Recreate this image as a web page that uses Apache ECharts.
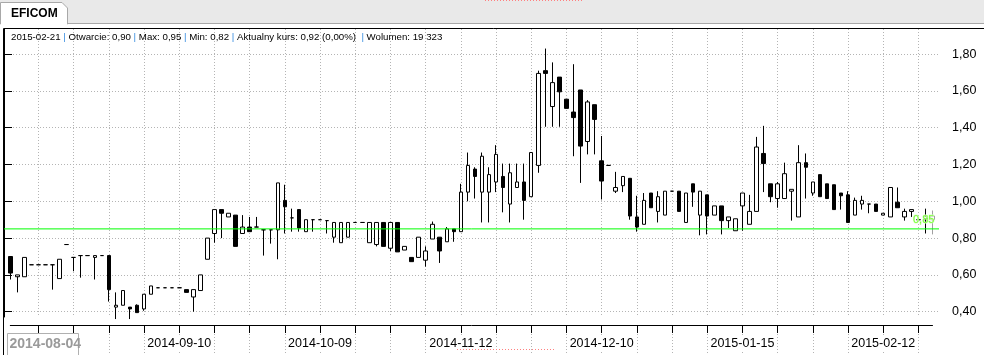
<!DOCTYPE html>
<html><head><meta charset="utf-8">
<script src="https://cdn.jsdelivr.net/npm/echarts@6/dist/echarts.min.js"></script>
<style>html,body{margin:0;padding:0;background:#fff;overflow:hidden}#c{width:984px;height:355px}</style>
</head><body><div id="c"></div>
<script>
const categories = [
'2014-07-29','2014-07-30','2014-07-31','2014-08-01','2014-08-04','2014-08-05','2014-08-06','2014-08-08','2014-08-11','2014-08-12',
'2014-08-14','2014-08-18','2014-08-19','2014-08-21','2014-08-22','2014-08-25','2014-08-26','2014-08-28','2014-08-29','2014-09-01',
'2014-09-03','2014-09-05','2014-09-08','2014-09-09','2014-09-10','2014-09-11','2014-09-12','2014-09-15','2014-09-16','2014-09-18',
'2014-09-19','2014-09-22','2014-09-23','2014-09-24','2014-09-25','2014-09-26','2014-09-29','2014-09-30','2014-10-01','2014-10-02',
'2014-10-03','2014-10-06','2014-10-07','2014-10-08','2014-10-09','2014-10-10','2014-10-13','2014-10-15','2014-10-16','2014-10-17',
'2014-10-20','2014-10-21','2014-10-23','2014-10-24','2014-10-27','2014-10-28','2014-10-29','2014-10-30','2014-10-31','2014-11-03',
'2014-11-04','2014-11-06','2014-11-07','2014-11-10','2014-11-12','2014-11-13','2014-11-14','2014-11-17','2014-11-18','2014-11-19',
'2014-11-20','2014-11-21','2014-11-24','2014-11-25','2014-11-26','2014-11-27','2014-11-28','2014-12-01','2014-12-02','2014-12-03',
'2014-12-04','2014-12-05','2014-12-08','2014-12-09','2014-12-10','2014-12-11','2014-12-12','2014-12-15','2014-12-16','2014-12-17',
'2014-12-18','2014-12-19','2014-12-22','2014-12-23','2014-12-29','2014-12-30','2015-01-02','2015-01-05','2015-01-07','2015-01-08',
'2015-01-09','2015-01-12','2015-01-13','2015-01-14','2015-01-15','2015-01-16','2015-01-19','2015-01-20','2015-01-21','2015-01-22',
'2015-01-23','2015-01-26','2015-01-27','2015-01-28','2015-01-29','2015-01-30','2015-02-02','2015-02-03','2015-02-04','2015-02-05',
'2015-02-06','2015-02-09','2015-02-10','2015-02-11','2015-02-12','2015-02-13','2015-02-16','2015-02-17','2015-02-18','2015-02-19',
'2015-02-20','2015-02-21'];

const openValues = [
.70,.59,.59,.655,.655,.655,.655,.58,.765,.695,
.705,.705,.695,.705,.705,.425,.435,.425,.435,.415,
.495,.53,.53,.53,.53,.52,.48,.515,.685,.825,
.955,.915,.925,.825,.86,.86,.845,.845,.845,1.005,
.91,.955,.835,.90,.90,.895,.805,.775,.805,.885,
.885,.775,.765,.885,.745,.885,.735,.695,.695,.68,
.795,.805,.78,.85,.835,1.05,1.175,1.05,1.05,1.105,
1.135,.985,1.075,1.105,1.025,1.195,1.71,1.515,1.675,1.555,
1.485,1.605,1.325,1.525,1.22,1.195,1.055,1.085,1.125,.915,
.875,1.045,.945,.925,1.055,1.055,.885,1.095,.925,1.035,
.925,.975,.895,.84,.975,.875,.945,1.26,1.095,1.015,
1.015,1.055,.915,1.21,1.045,1.145,1.095,1.09,1.045,1.035,
.925,.985,.985,.985,.925,.915,.995,.915,.945,.90,
.90,.90];

const closeValues = [
.61,.60,.695,.655,.655,.655,.655,.685,.765,.695,
.705,.705,.705,.705,.52,.435,.515,.415,.395,.495,
.54,.53,.53,.53,.53,.505,.52,.60,.80,.955,
.935,.935,.755,.86,.835,.86,.845,.845,1.10,.97,
.91,.855,.90,.90,.90,.895,.885,.885,.885,.885,
.885,.885,.885,.755,.885,.725,.755,.672,.805,.73,
.875,.73,.85,.835,1.05,1.195,1.135,1.245,1.145,1.255,
1.075,1.155,1.105,1.005,1.265,1.695,1.695,1.645,1.595,1.505,
1.455,1.30,1.54,1.445,1.11,1.195,1.075,1.135,.92,.86,
1.005,.965,1.025,1.055,1.055,.945,1.045,1.05,1.055,.92,
.975,.895,.915,.905,1.045,.945,1.295,1.205,1.025,1.095,
1.15,1.065,1.21,1.185,1.105,1.025,1.015,.955,1.03,.885,
1.005,1.005,.985,.945,.935,1.075,.965,.945,.955,.90,
.92,.92];

const lowValues = [
.575,.505,.59,.655,.655,.655,.52,.58,.765,.62,
.585,.705,.575,.705,.455,.36,.435,.36,.395,.405,
.495,.53,.53,.53,.53,.505,.40,.515,.685,.775,
.80,.915,.755,.825,.835,.86,.705,.77,.685,.825,
.835,.835,.835,.835,.90,.825,.775,.775,.805,.885,
.885,.775,.755,.755,.73,.725,.735,.672,.695,.645,
.795,.665,.78,.78,.835,1.00,1.015,.885,.885,1.05,
.94,.885,1.075,.90,1.025,1.155,1.405,1.405,1.405,1.505,
1.245,1.10,1.255,1.255,1.01,1.195,1.045,1.05,.90,.835,
.875,.965,.885,.925,1.055,.945,.885,.97,.815,.82,
.925,.82,.855,.84,.84,.875,.945,1.05,.995,.965,
1.015,.895,.915,1.015,1.03,1.025,1.015,.955,.955,.885,
.925,.955,.935,.945,.925,.915,.965,.895,.915,.90,
.825,.82];

const highValues = [
.70,.60,.695,.655,.655,.655,.655,.685,.765,.695,
.705,.705,.705,.705,.705,.505,.515,.425,.44,.495,
.54,.53,.53,.53,.53,.52,.52,.60,.80,.955,
.955,.935,.925,.925,.915,.915,.845,.845,1.10,1.09,
.96,.955,.90,.90,.90,.895,.885,.885,.885,.885,
.885,.885,.885,.885,.885,.885,.755,.695,.805,.755,
.89,.805,.86,.85,1.095,1.265,1.185,1.265,1.185,1.305,
1.205,1.205,1.205,1.205,1.265,1.71,1.83,1.755,1.675,1.555,
1.745,1.605,1.55,1.525,1.355,1.195,1.16,1.135,1.125,1.03,
1.045,1.045,1.055,1.055,1.055,1.055,1.045,1.095,1.055,1.035,
.975,.975,.915,.905,1.045,1.035,1.35,1.41,1.095,1.105,
1.21,1.065,1.305,1.26,1.105,1.145,1.095,1.09,1.045,1.055,
1.02,1.03,.985,.985,.935,1.075,1.075,.96,.955,.90,
.96,.95];

const yTickValues = [0.4, 0.6, 0.8, 1.0, 1.2, 1.4, 1.6, 1.8];
const supportLevel = 0.85;
const tickerName = 'EFICOM';
const lastVolume = '19 323';
const lastChange = '0,00%';

const fmt = v => v.toFixed(2).replace('.', ',');
const last = categories.length - 1;
const candleData = categories.map((d, i) => {
  const item = { value: [openValues[i], closeValues[i], lowValues[i], highValues[i]] };
  if (i === last) item.itemStyle = { color: '#ffffff', color0: '#ffffff', borderColor: '#a0a0a0', borderColor0: '#a0a0a0' };
  return item;
});

const FONT = 'Liberation Sans';
const gridDot = { color: '#b4b4b4', width: 1, type: [1, 2] };
const yMin = 0.3712, yMax = 1.9364;
const tickEvery = i => i % 5 === 4;

const infoText = '{t|' + categories[last] + '} {p||} {t|Otwarcie: ' + fmt(openValues[last]) + '} {p||} {t|Max: ' + fmt(highValues[last]) +
  '} {p||} {t|Min: ' + fmt(lowValues[last]) + '} {p||} {t|Aktualny kurs: ' + fmt(closeValues[last]) + ' (' + lastChange + ')}  {p||} {t|Wolumen: ' + lastVolume + '}';

const chart = echarts.init(document.getElementById('c'), null, { renderer: 'canvas' });
chart.setOption({
  animation: false,
  backgroundColor: '#ffffff',
  title: {
    text: infoText, left: 11, top: 31, padding: 0,
    textStyle: { fontFamily: FONT, fontSize: 9.7, fontWeight: 'normal', lineHeight: 13,
      rich: { t: { color: '#000000', fontFamily: FONT, fontSize: 9.7 }, p: { color: '#3a8ee0', fontFamily: FONT, fontSize: 9.7 } } }
  },
  grid: [
    { left: 10.3, right: 51.5, top: 29, bottom: 38 },
    { left: 4, right: 45, top: 29, bottom: 38 },
    { left: 10.3, right: 51.5, top: 334, bottom: 0 }
  ],
  xAxis: [
    { gridIndex: 0, type: 'category', data: categories, boundaryGap: false, offset: 8,
      axisLine: { show: true, lineStyle: { color: '#000', width: 1 } },
      axisTick: { show: true, length: 8, interval: tickEvery, lineStyle: { color: '#000' } },
      axisLabel: { interval: i => i % 20 === 4 && i > 4, margin: 11, color: '#000', fontFamily: FONT, fontSize: 12.5,
        backgroundColor: '#ffffff', padding: [1, 1, 2, 1] },
      splitLine: { show: true, interval: tickEvery, lineStyle: gridDot } },
    { gridIndex: 1, type: 'value', min: 0, max: 1, show: false },
    { gridIndex: 2, type: 'category', data: categories, boundaryGap: false,
      axisLine: { show: false }, axisTick: { show: false }, axisLabel: { show: false },
      splitLine: { show: true, interval: tickEvery, lineStyle: gridDot } }
  ],
  yAxis: [
    { gridIndex: 0, type: 'value', min: yMin, max: yMax, show: false, splitLine: { show: false } },
    { gridIndex: 1, type: 'value', position: 'right', min: yMin, max: yMax,
      axisLine: { show: true, lineStyle: { color: '#000', width: 1 } },
      axisTick: { show: true, length: 8, customValues: yTickValues, lineStyle: { color: '#000' } },
      axisLabel: { customValues: yTickValues, margin: 13, color: '#000', fontFamily: FONT, fontSize: 12.5, formatter: v => fmt(v) },
      splitLine: { show: true, lineStyle: gridDot } },
    { gridIndex: 2, type: 'value', show: false, splitLine: { show: false } }
  ],
  series: [
    { type: 'candlestick', xAxisIndex: 0, yAxisIndex: 0, data: candleData, barWidth: 4, clip: false, z: 5,
      itemStyle: { color: '#ffffff', color0: '#000000', borderColor: '#000000', borderColor0: '#000000', borderWidth: 1 } },
    { type: 'line', xAxisIndex: 1, yAxisIndex: 1, z: 6, silent: true, showSymbol: false, symbol: 'none',
      lineStyle: { color: '#00ff00', width: 1 },
      endLabel: { show: true, distance: 0, offset: [-26, -9], formatter: () => fmt(supportLevel), color: '#7dff3a', fontFamily: FONT, fontSize: 11,
        textBorderColor: '#d8ffc8', textBorderWidth: 1 },
      data: [[0, supportLevel], [1, supportLevel]] }
  ],
  graphic: [
    { type: 'rect', z: -1, shape: { x: 0, y: 0, width: 984, height: 23 }, style: { fill: '#e9e9e9' } },
    { type: 'line', z: 1, shape: { x1: 0, y1: 23.5, x2: 984, y2: 23.5 }, style: { stroke: '#a8a8a8', lineWidth: 1 } },
    { type: 'polygon', z: 2, shape: { points: [[0.5, 24], [0.5, 2.5], [62, 2.5], [67.5, 8], [67.5, 24]] }, style: { fill: '#ffffff', stroke: '#a8a8a8', lineWidth: 1 } },
    { type: 'rect', z: 3, shape: { x: 1, y: 22, width: 66, height: 3 }, style: { fill: '#ffffff' } },
    { type: 'text', z: 3, x: 11, y: 14, style: { text: tickerName, font: 'bold 12px "Liberation Sans"', fill: '#000', verticalAlign: 'middle' } },
    { type: 'line', z: 1, shape: { x1: 485, y1: 0.5, x2: 584, y2: 0.5 }, style: { stroke: '#ff8080', lineWidth: 1, lineDash: [1, 2] } },
    { type: 'line', z: 10, shape: { x1: 3.5, y1: 28.5, x2: 984, y2: 28.5 }, style: { stroke: '#000', lineWidth: 1 } },
    { type: 'line', z: 10, shape: { x1: 3.5, y1: 28.5, x2: 3.5, y2: 355 }, style: { stroke: '#000', lineWidth: 1 } },
    { type: 'line', z: 10, shape: { x1: 457, y1: 349.5, x2: 556, y2: 349.5 }, style: { stroke: '#ff8080', lineWidth: 1, lineDash: [1, 2] } },
    { type: 'rect', z: 20, shape: { x: 7.5, y: 333.5, width: 71, height: 24 }, style: { fill: '#ffffff', stroke: '#b0b0b0', lineWidth: 1 } },
    { type: 'text', z: 21, x: 9.5, y: 344, style: { text: categories[4], font: 'bold 14px "Liberation Sans"', fill: '#9a9a9a', verticalAlign: 'middle' } }
  ]
});
</script></body></html>
